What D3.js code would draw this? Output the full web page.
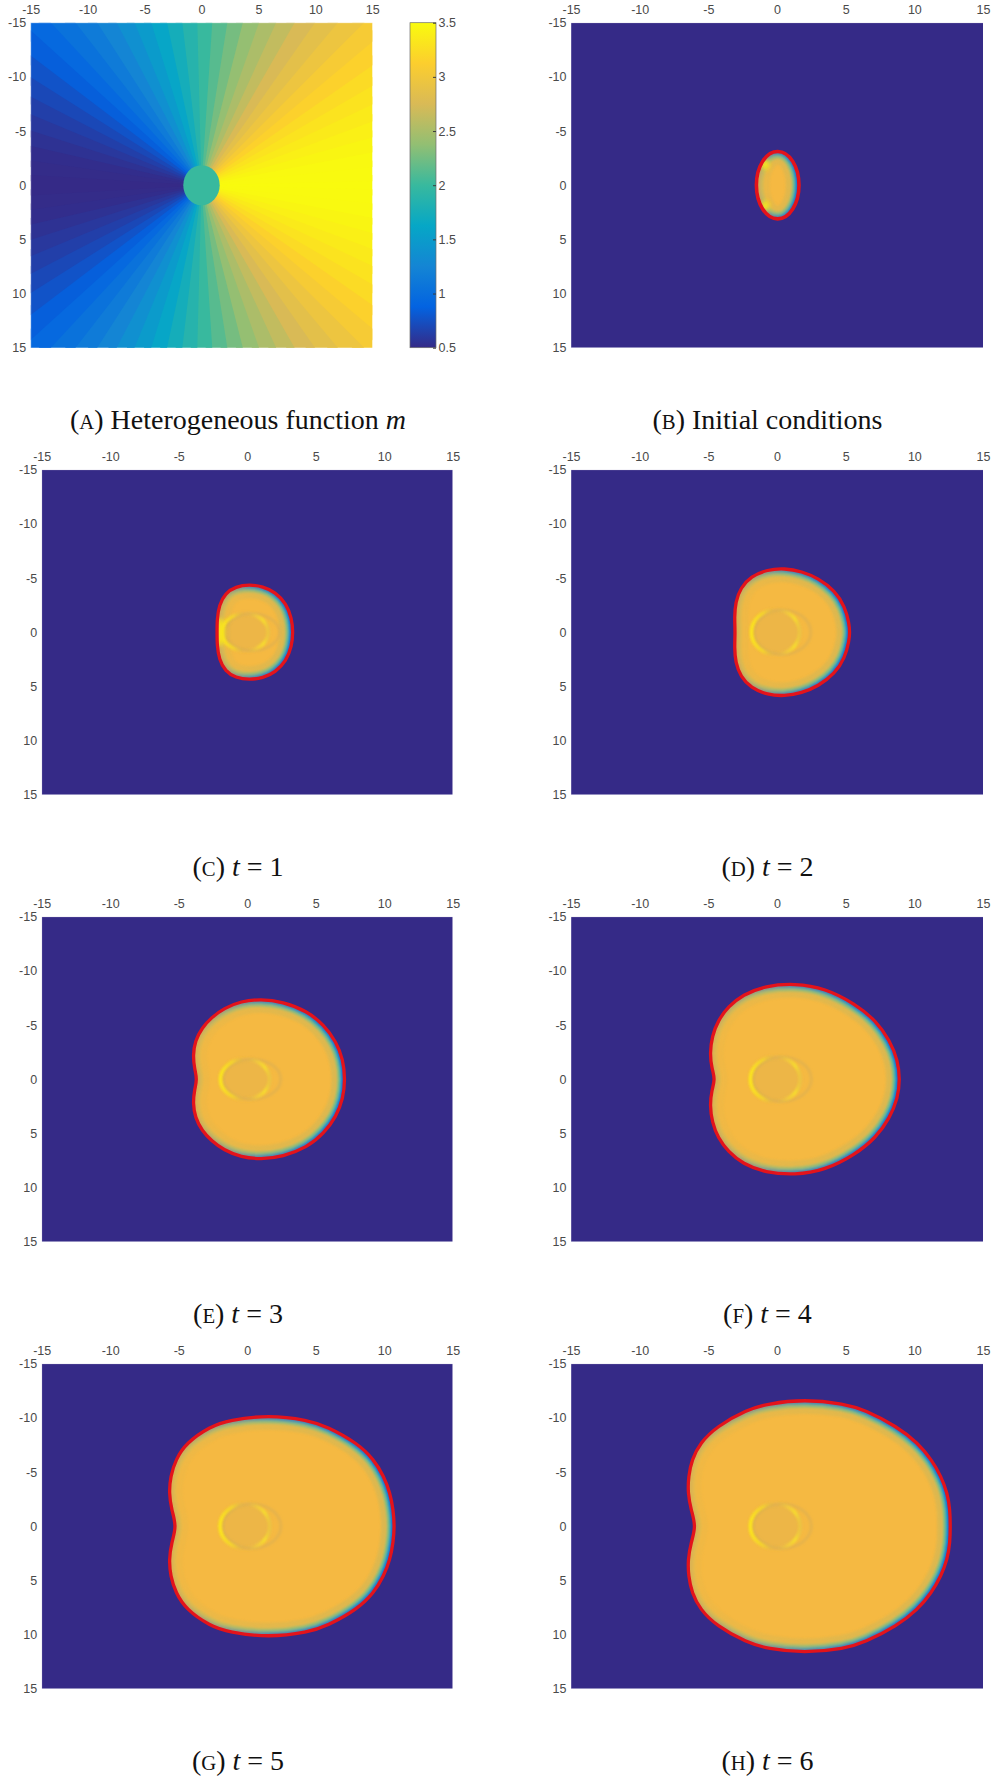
<!DOCTYPE html>
<html>
<head>
<meta charset="utf-8">
<script src="https://cdn.jsdelivr.net/npm/d3@7"></script>
<style>
  body { margin: 0; background: #fff; }
  svg { display: block; }
  .tick text { font-family: "Liberation Sans", Arial, sans-serif; font-size: 12.5px; fill: #4a4a4a; }
  .cap { font-family: "Liberation Serif", "Times New Roman", serif; font-size: 28px; fill: #111; white-space: pre; }
</style>
</head>
<body>
<svg id="fig" width="992" height="1780"></svg>
<script>
// ---- data ----
const axisTicks = [-15, -10, -5, 0, 5, 10, 15]
const cbarTicks = [0.5, 1, 1.5, 2, 2.5, 3, 3.5]
const parulaStops = ['#352a87', '#0363e1', '#1485d4', '#06a7c6', '#38b99e', '#92bf73', '#d9ba56', '#fcce2e', '#f9fb0e']

// panel A: m along rays (degrees from +x), upper half; the lower half mirrors it
const mAngles = [0, 5, 10, 15, 20, 25, 30, 35, 40, 45, 50, 55, 60, 65, 70, 75, 80, 85, 90,
  95, 100, 105, 110, 115, 120, 125, 130, 135, 140, 145, 150, 155, 160, 165, 170, 175, 180]
const mValues = [3.50, 3.49, 3.48, 3.45, 3.41, 3.36, 3.30, 3.23, 3.15, 3.06, 2.96, 2.86, 2.75, 2.63, 2.51, 2.39, 2.26, 2.13, 2.00,
  1.87, 1.74, 1.61, 1.49, 1.37, 1.25, 1.14, 1.04, 0.94, 0.85, 0.77, 0.70, 0.64, 0.59, 0.55, 0.52, 0.51, 0.50]
const mCore = { cx: 0, cy: 0, rx: 1.6, ry: 1.85, value: 2 }

// panel B: initial ellipse, and the yellow spots inside it
const initCenter = [0.05, 0]
const initRadii = [1.55, 3.1]
const initSpots = [[-0.85, -1.9], [-0.85, 1.9]]

// fronts (red contour) at t = 1..6, [x, y] in plot units
const frontT1 = [[0.15, -4.4], [1.15, -4.22], [2.05, -3.7], [2.85, -2.65], [3.25, -1.3], [3.35, 0], [3.25, 1.3], [2.85, 2.65],
  [2.05, 3.7], [1.15, 4.22], [0.15, 4.4], [-0.85, 4.2], [-1.6, 3.6], [-2.05, 2.5], [-2.2, 1.2], [-2.2, 0],
  [-2.2, -1.2], [-2.05, -2.5], [-1.6, -3.6], [-0.85, -4.2]]
const frontT2 = [[0.55, -5.9], [1.8, -5.62], [3.0, -4.98], [4.2, -3.85], [4.95, -2.35], [5.25, -0.8], [5.3, 0], [5.25, 0.8],
  [4.95, 2.35], [4.2, 3.85], [3.0, 4.98], [1.8, 5.62], [0.55, 5.9], [-0.7, 5.78], [-1.9, 5.15], [-2.65, 4.1],
  [-3.02, 2.8], [-3.1, 1.4], [-3.04, 0], [-3.1, -1.4], [-3.02, -2.8], [-2.65, -4.1], [-1.9, -5.15], [-0.7, -5.78]]
const frontT3 = [[1.0, -7.4], [2.6, -7.15], [4.36, -6.3], [5.6, -5.0], [6.5, -3.45], [7.0, -1.8], [7.15, 0], [7.0, 1.8],
  [6.5, 3.45], [5.6, 5.0], [4.36, 6.3], [2.6, 7.15], [1.0, 7.4], [-0.45, 7.2], [-1.7, 6.55], [-2.6, 5.7],
  [-3.3, 4.75], [-3.8, 3.55], [-3.96, 2.2], [-3.85, 1.0], [-3.65, 0], [-3.85, -1.0], [-3.96, -2.2], [-3.8, -3.55],
  [-3.3, -4.75], [-2.6, -5.7], [-1.7, -6.55], [-0.45, -7.2]]
const frontT4 = [[1.3, -8.85], [3.5, -8.4], [5.7, -6.95], [7.2, -5.4], [8.2, -3.6], [8.8, -1.75], [8.95, 0], [8.8, 1.75],
  [8.2, 3.6], [7.2, 5.4], [5.7, 6.95], [3.5, 8.4], [1.3, 8.85], [-0.85, 8.62], [-2.5, 7.8], [-3.55, 6.7],
  [-4.3, 5.4], [-4.72, 4.0], [-4.89, 2.4], [-4.75, 1.0], [-4.5, 0], [-4.75, -1.0], [-4.89, -2.4], [-4.72, -4.0],
  [-4.3, -5.4], [-3.55, -6.7], [-2.5, -7.8], [-0.85, -8.62]]
const frontT5 = [[1.55, -10.27], [4.45, -9.8], [5.83, -9.2], [8.03, -7.68], [9.25, -6.15], [9.97, -4.6], [10.43, -3.07], [10.66, -1.5],
  [10.75, 0], [10.66, 1.5], [10.43, 3.07], [9.97, 4.6], [9.25, 6.15], [8.03, 7.68], [5.83, 9.2], [4.45, 9.8],
  [1.55, 10.27], [-1.33, 9.8], [-2.72, 9.2], [-4.46, 7.68], [-5.22, 6.15], [-5.6, 4.6], [-5.71, 3.07], [-5.52, 1.5],
  [-5.15, 0], [-5.52, -1.5], [-5.71, -3.07], [-5.6, -4.6], [-5.22, -6.15], [-4.46, -7.68], [-2.72, -9.2], [-1.33, -9.8]]
const frontT6 = [[1.97, -11.72], [4.95, -11.3], [6.35, -10.75], [8.75, -9.2], [10.25, -7.68], [11.25, -6.15], [11.95, -4.6], [12.4, -3.07],
  [12.6, -1.5], [12.62, 0], [12.6, 1.5], [12.4, 3.07], [11.95, 4.6], [11.25, 6.15], [10.25, 7.68], [8.75, 9.2],
  [6.35, 10.75], [4.95, 11.3], [1.97, 11.72], [-0.7, 11.3], [-2.2, 10.75], [-4.4, 9.2], [-5.6, 7.68], [-6.2, 6.15],
  [-6.45, 4.6], [-6.49, 3.07], [-6.26, 1.5], [-5.89, 0], [-6.26, -1.5], [-6.49, -3.07], [-6.45, -4.6], [-6.2, -6.15],
  [-5.6, -7.68], [-4.4, -9.2], [-2.2, -10.75], [-0.7, -11.3]]

// inner ring around the origin, t = 1..6
const ringCx = [-0.15, -0.1, -0.15, -0.12, -0.16, -0.12]
const ringRx = [1.7, 1.76, 1.8, 1.82, 1.82, 1.82]
const ringRy = [1.7, 2.05, 1.85, 2.05, 2.05, 2.05]
const t1Spots = [[-1.95, 0]]

// ---- layout ----
const plotH = 325
const rowTop = r => 22.7 + 447 * r
const capBase = r => 429 + 447 * r
const colX = [[41.7, 452.7], [571, 983]]
const capX = [238, 767.5]
const bgColor = '#352a87'
const blobColor = '#f5b942'
const frontColor = '#e3131b'
const edgeBand = [
  { w: 26, c: '#c9b65a', o: 0.55 },
  { w: 14, c: '#72bf84', o: 0.9 },
  { w: 9, c: '#12a8c4', o: 1 },
  { w: 6, c: '#1a6bd6', o: 1 }
]

const svg = d3.select('#fig')
const defs = svg.append('defs')
const parula = d3.piecewise(d3.interpolateRgb, parulaStops)
const mColor = d3.scaleSequential(parula).domain([0.5, 3.5])

defs.append('filter').attr('id', 'soft').attr('x', '-10%').attr('y', '-10%').attr('width', '120%').attr('height', '120%')
  .append('feGaussianBlur').attr('stdDeviation', 1.3)
defs.append('filter').attr('id', 'glow').attr('x', '-50%').attr('y', '-50%').attr('width', '200%').attr('height', '200%')
  .append('feGaussianBlur').attr('stdDeviation', 2.2)

const ringGrad = defs.append('linearGradient').attr('id', 'ringGrad').attr('x1', 0).attr('x2', 1).attr('y1', 0).attr('y2', 0)
;[[0, '#fbe61a', 1], [0.25, '#f5d82a', 0.8], [0.5, '#d8b24a', 0], [0.72, '#f2d43a', 0.5], [0.9, '#f7df2c', 0.95], [1, '#e9c642', 0.7]]
  .forEach(([o, c, a]) => ringGrad.append('stop').attr('offset', o).attr('stop-color', c).attr('stop-opacity', a))

function scales (x0, x1, top) {
  return {
    x: d3.scaleLinear().domain([-15, 15]).range([x0, x1]),
    y: d3.scaleLinear().domain([-15, 15]).range([top, top + plotH])
  }
}

function drawAxes (g, x, y) {
  g.append('g')
    .attr('transform', `translate(0,${y.range()[0]})`)
    .call(d3.axisTop(x).tickValues(axisTicks).tickSize(0).tickPadding(8.5).tickFormat(d => String(d)))
    .call(a => a.select('.domain').remove())
  g.append('g')
    .attr('transform', `translate(${x.range()[0]},0)`)
    .call(d3.axisLeft(y).tickValues(axisTicks).tickSize(0).tickPadding(4.5).tickFormat(d => String(d)))
    .call(a => a.select('.domain').remove())
}

function frame (g, x, y, color) {
  g.append('path')
    .attr('d', `M${x.range()[0]},${y.range()[1]}V${y.range()[0]}H${x.range()[1]}`)
    .attr('fill', 'none').attr('stroke', color).attr('stroke-width', 1)
}

function caption (col, row, letter, parts) {
  const t = svg.append('text').attr('class', 'cap')
    .attr('x', capX[col]).attr('y', capBase(row)).attr('text-anchor', 'middle')
  t.append('tspan').text('(')
  t.append('tspan').attr('font-size', '0.74em').text(letter)
  t.append('tspan').text(') ')
  parts.forEach(p => t.append('tspan').attr('font-style', p.i ? 'italic' : null).text(p.t))
}

function plotClip (id, x, y) {
  defs.append('clipPath').attr('id', 'plot' + id)
    .append('rect').attr('x', x.range()[0]).attr('y', y.range()[0])
    .attr('width', x.range()[1] - x.range()[0]).attr('height', plotH)
}

// ---- panel A ----
{
  const { x, y } = scales(30.7, 372.3, rowTop(0))
  plotClip('A', x, y)
  const g = svg.append('g')
  const field = g.append('g').attr('clip-path', 'url(#plotA)')
  const sectors = mAngles.flatMap((a, i) => (a === 0 || a === 180)
    ? [{ a, v: mValues[i] }]
    : [{ a, v: mValues[i] }, { a: -a, v: mValues[i] }])
  const R = 25
  const line = d3.line().x(d => x(d[0])).y(d => y(d[1]))
  // sectors overlap a little so no seams show between them
  field.selectAll('path.sector')
    .data(sectors)
    .join('path')
    .attr('class', 'sector')
    .attr('d', d => {
      const a0 = (d.a - 3.6) * Math.PI / 180
      const a1 = (d.a + 3.6) * Math.PI / 180
      return line([[0, 0], [R * Math.cos(a0), R * Math.sin(a0)], [R * Math.cos(a1), R * Math.sin(a1)]]) + 'Z'
    })
    .attr('fill', d => mColor(d.v))
  field.append('ellipse')
    .attr('cx', x(mCore.cx)).attr('cy', y(mCore.cy))
    .attr('rx', x(mCore.rx) - x(0)).attr('ry', y(mCore.ry) - y(0))
    .attr('fill', mColor(mCore.value))
  frame(g, x, y, 'rgba(255,255,255,0.55)')
  drawAxes(g, x, y)

  // colorbar
  const cb = d3.scaleLinear().domain([0.5, 3.5]).range([rowTop(0) + plotH, rowTop(0)])
  const cbGrad = defs.append('linearGradient').attr('id', 'cbGrad')
    .attr('x1', 0).attr('y1', 1).attr('x2', 0).attr('y2', 0)
  parulaStops.forEach((c, i) => cbGrad.append('stop').attr('offset', i / (parulaStops.length - 1)).attr('stop-color', c))
  g.append('rect')
    .attr('x', 410).attr('y', cb.range()[1])
    .attr('width', 26).attr('height', plotH)
    .attr('fill', 'url(#cbGrad)')
    .attr('stroke', '#6d6d6d').attr('stroke-width', 0.7)
  g.append('g')
    .attr('transform', 'translate(436,0)')
    .call(d3.axisRight(cb).tickValues(cbarTicks).tickSize(-3).tickPadding(2.5).tickFormat(d => String(d)))
    .call(a => a.select('.domain').remove())
    .call(a => a.selectAll('.tick line').attr('stroke', '#3a3a3a'))

  caption(0, 0, 'A', [{ t: 'Heterogeneous function ' }, { t: 'm', i: true }])
}

// ---- shared blob drawing ----
function drawBlob (g, id, x, y, d, xExt) {
  defs.append('clipPath').attr('id', 'in' + id).append('path').attr('d', d)
  const grad = defs.append('linearGradient').attr('id', 'fade' + id)
    .attr('gradientUnits', 'userSpaceOnUse')
    .attr('x1', x(xExt[0])).attr('x2', x(xExt[1])).attr('y1', 0).attr('y2', 0)
  ;[[0, 0.1], [0.45, 0.7], [1, 1]].forEach(([o, a]) =>
    grad.append('stop').attr('offset', o).attr('stop-color', '#fff').attr('stop-opacity', a))
  defs.append('mask').attr('id', 'm' + id)
    .attr('maskUnits', 'userSpaceOnUse')
    .attr('x', x.range()[0]).attr('y', y.range()[0])
    .attr('width', x.range()[1] - x.range()[0]).attr('height', plotH)
    .append('rect')
    .attr('x', x.range()[0]).attr('y', y.range()[0])
    .attr('width', x.range()[1] - x.range()[0]).attr('height', plotH)
    .attr('fill', `url(#fade${id})`)

  g.append('path').attr('d', d).attr('fill', blobColor)
  const band = g.append('g').attr('clip-path', `url(#in${id})`).attr('mask', `url(#m${id})`)
  const inner = band.append('g').attr('filter', 'url(#soft)')
  edgeBand.forEach(b => inner.append('path')
    .attr('d', d).attr('fill', 'none')
    .attr('stroke', b.c).attr('stroke-width', b.w).attr('stroke-opacity', b.o))
}

function drawSpots (g, id, x, y, spots, rx, ry) {
  g.append('g').attr('clip-path', `url(#in${id})`)
    .append('g').attr('filter', 'url(#glow)')
    .selectAll('ellipse').data(spots).join('ellipse')
    .attr('cx', d => x(d[0])).attr('cy', d => y(d[1]))
    .attr('rx', rx).attr('ry', ry)
    .attr('fill', '#f8e41e')
}

// ---- panel B ----
{
  const { x, y } = scales(colX[1][0], colX[1][1], rowTop(0))
  plotClip('B', x, y)
  const g = svg.append('g')
  const inner = g.append('g').attr('clip-path', 'url(#plotB)')
  inner.append('rect').attr('x', x.range()[0]).attr('y', y.range()[0])
    .attr('width', x.range()[1] - x.range()[0]).attr('height', plotH).attr('fill', bgColor)
  const cx = x(initCenter[0]), cy = y(initCenter[1])
  const rx = x(initRadii[0]) - x(0), ry = y(initRadii[1]) - y(0)
  const d = `M${cx - rx},${cy}A${rx},${ry} 0 1 0 ${cx + rx},${cy}A${rx},${ry} 0 1 0 ${cx - rx},${cy}Z`
  drawBlob(inner, 'B', x, y, d, [initCenter[0] - initRadii[0], initCenter[0] + initRadii[0]])
  drawSpots(inner, 'B', x, y, initSpots, 4, 5)
  inner.append('path').attr('d', d).attr('fill', 'none')
    .attr('stroke', frontColor).attr('stroke-width', 3.6)
  frame(g, x, y, 'rgba(255,255,255,0.4)')
  drawAxes(g, x, y)
  caption(1, 0, 'B', [{ t: 'Initial conditions' }])
}

// ---- panels C..H ----
const timePanels = [
  { id: 'C', t: 1, col: 0, row: 1, front: frontT1 },
  { id: 'D', t: 2, col: 1, row: 1, front: frontT2 },
  { id: 'E', t: 3, col: 0, row: 2, front: frontT3 },
  { id: 'F', t: 4, col: 1, row: 2, front: frontT4 },
  { id: 'G', t: 5, col: 0, row: 3, front: frontT5 },
  { id: 'H', t: 6, col: 1, row: 3, front: frontT6 }
]

timePanels.forEach((p, k) => {
  const { x, y } = scales(colX[p.col][0], colX[p.col][1], rowTop(p.row))
  plotClip(p.id, x, y)
  const g = svg.append('g')
  const inner = g.append('g').attr('clip-path', `url(#plot${p.id})`)
  inner.append('rect').attr('x', x.range()[0]).attr('y', y.range()[0])
    .attr('width', x.range()[1] - x.range()[0]).attr('height', plotH).attr('fill', bgColor)

  const line = d3.line()
    .x(d => x(d[0])).y(d => y(d[1]))
    .curve(d3.curveBasisClosed)
  const d = line(p.front)
  drawBlob(inner, p.id, x, y, d, d3.extent(p.front, q => q[0]))

  // inner ring
  const ring = inner.append('g').attr('clip-path', `url(#in${p.id})`)
  ring.append('ellipse')
    .attr('cx', x(ringCx[k])).attr('cy', y(0))
    .attr('rx', x(ringRx[k]) - x(0)).attr('ry', y(ringRy[k]) - y(0))
    .attr('fill', '#c9a95e').attr('fill-opacity', 0.18)
    .attr('filter', 'url(#glow)')
  ring.append('ellipse')
    .attr('cx', x(ringCx[k] + 0.5)).attr('cy', y(0))
    .attr('rx', x(ringRx[k] + 0.3) - x(0)).attr('ry', y(ringRy[k]) - y(0))
    .attr('fill', 'none').attr('stroke', '#c2a660').attr('stroke-width', 3).attr('stroke-opacity', 0.3)
    .attr('filter', 'url(#soft)')
  ring.append('ellipse')
    .attr('cx', x(ringCx[k])).attr('cy', y(0))
    .attr('rx', x(ringRx[k]) - x(0)).attr('ry', y(ringRy[k]) - y(0))
    .attr('fill', 'none').attr('stroke', 'url(#ringGrad)').attr('stroke-width', 3.6)
    .attr('filter', 'url(#soft)')

  if (p.t === 1) drawSpots(inner, p.id, x, y, t1Spots, 4, 14)

  inner.append('path').attr('d', d).attr('fill', 'none')
    .attr('stroke', frontColor).attr('stroke-width', 3.3)
  frame(g, x, y, 'rgba(255,255,255,0.4)')
  drawAxes(g, x, y)
  caption(p.col, p.row, p.id, [{ t: 't', i: true }, { t: ' = ' + p.t }])
})
</script>
</body>
</html>
